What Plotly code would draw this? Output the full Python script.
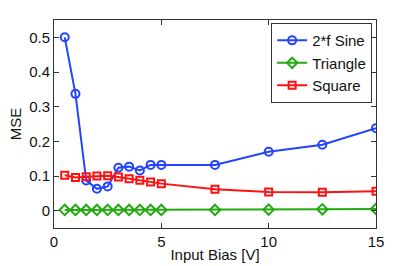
import plotly.graph_objects as go

x_vals = [0.5, 1, 1.5, 2, 2.5, 3, 3.5, 4, 4.5, 5, 7.5, 10, 12.5, 15]
sine_mse = [0.500, 0.337, 0.087, 0.063, 0.070, 0.124, 0.127, 0.116, 0.132, 0.132, 0.132, 0.170, 0.190, 0.238]
triangle_mse = [0.002, 0.002, 0.002, 0.002, 0.002, 0.002, 0.002, 0.002, 0.002, 0.002, 0.002, 0.003, 0.004, 0.005]
square_mse = [0.102, 0.096, 0.098, 0.100, 0.101, 0.097, 0.092, 0.088, 0.083, 0.078, 0.062, 0.054, 0.053, 0.056]
x_ticks = [0, 5, 10, 15]
y_ticks = [0, 0.1, 0.2, 0.3, 0.4, 0.5]
y_tick_labels = ["0", "0.1", "0.2", "0.3", "0.4", "0.5"]

font_family = "Liberation Sans, Arial, sans-serif"
fs = 15

fig = go.Figure()
fig.add_trace(go.Scatter(x=x_vals, y=sine_mse, name="2*f Sine", mode="lines+markers",
                         line=dict(color="#2244ff", width=2),
                         marker=dict(symbol="circle-open", size=8, color="#2244ff", line=dict(width=2))))
fig.add_trace(go.Scatter(x=x_vals, y=triangle_mse, name="Triangle", mode="lines+markers",
                         line=dict(color="#22aa11", width=2),
                         marker=dict(symbol="diamond-open", size=8, color="#22aa11", line=dict(width=2))))
fig.add_trace(go.Scatter(x=x_vals, y=square_mse, name="Square", mode="lines+markers",
                         line=dict(color="#ff1111", width=2),
                         marker=dict(symbol="square-open", size=7, color="#ff1111", line=dict(width=2))))

axis_common = dict(showgrid=False, zeroline=False, showline=True, linecolor="#333333", linewidth=1,
                   mirror="ticks", ticks="inside", ticklen=5, tickcolor="#333333", automargin=False,
                   tickfont=dict(family=font_family, size=fs, color="#111111"))

fig.update_layout(
    width=415, height=266,
    margin=dict(l=54, r=39, t=20, b=38),
    paper_bgcolor="white", plot_bgcolor="white",
    font=dict(family=font_family, size=fs, color="#111111"),
    xaxis=dict(range=[0, 15], tickvals=x_ticks,
               title=dict(text="Input Bias [V]", standoff=0, font=dict(size=fs)), **axis_common),
    yaxis=dict(range=[-0.05, 0.55], tickvals=y_ticks, ticktext=y_tick_labels,
               title=dict(text="MSE", standoff=3, font=dict(size=fs)), **axis_common),
    legend=dict(x=0.988, y=0.985, xanchor="right", yanchor="top", bgcolor="white",
                bordercolor="#333333", borderwidth=1, font=dict(size=fs),
                tracegroupgap=0, itemwidth=30),
    showlegend=True,
)

fig.write_html("out.html", post_script="document.body.style.margin='0';",
               config={"displayModeBar": False})
